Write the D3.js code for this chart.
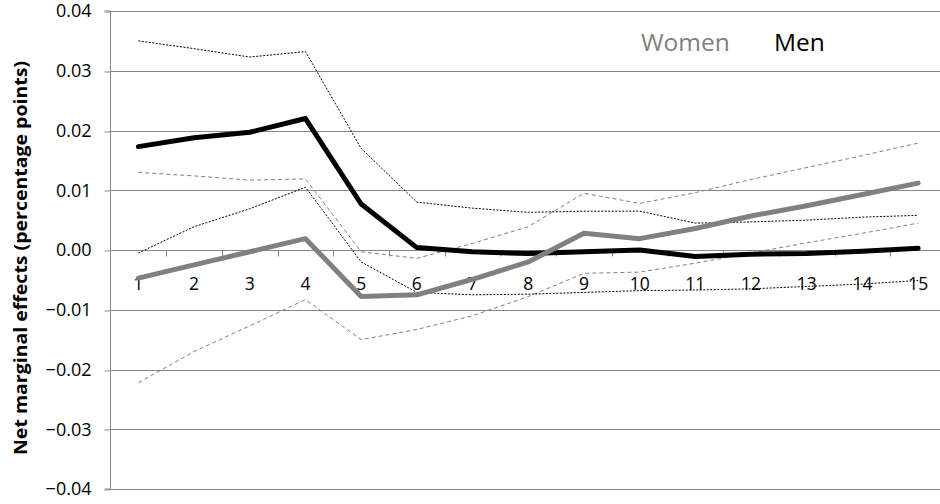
<!DOCTYPE html>
<html>
<head>
<meta charset="utf-8">
<script src="https://cdn.jsdelivr.net/npm/d3@7"></script>
<style>
  html, body { margin: 0; padding: 0; background: #fff; overflow: hidden; }
  svg { display: block; }
  text { font-family: "Open Sans", "Noto Sans", sans-serif; }
</style>
</head>
<body>
<svg id="chart" width="940" height="504"></svg>
<script>
// Categories along the horizontal axis
const categories = [1, 2, 3, 4, 5, 6, 7, 8, 9, 10, 11, 12, 13, 14, 15];

// Men: point estimates and confidence bounds
const menEffect = [0.0173, 0.0188, 0.0197, 0.0220, 0.0077, 0.0004, -0.0003, -0.0006, -0.0003, 0.0000, -0.0011, -0.0007, -0.0006, -0.0002, 0.0003];
const menUpper  = [0.0350, 0.0337, 0.0323, 0.0332, 0.0170, 0.0080, 0.0070, 0.0063, 0.0065, 0.0065, 0.0045, 0.0047, 0.0050, 0.0055, 0.0058];
const menLower  = [-0.0005, 0.0039, 0.0069, 0.0105, -0.0020, -0.0071, -0.0075, -0.0074, -0.0071, -0.0068, -0.0067, -0.0065, -0.0061, -0.0057, -0.0051];

// Women: point estimates and confidence bounds
const womenEffect = [-0.0047, -0.0025, -0.0003, 0.0019, -0.0078, -0.0075, -0.0049, -0.0020, 0.0028, 0.0019, 0.0036, 0.0057, 0.0074, 0.0093, 0.0112];
const womenUpper  = [0.0130, 0.0124, 0.0117, 0.0119, -0.0003, -0.0014, 0.0011, 0.0039, 0.0095, 0.0078, 0.0096, 0.0118, 0.0138, 0.0158, 0.0179];
const womenLower  = [-0.0222, -0.0170, -0.0127, -0.0083, -0.0150, -0.0133, -0.0110, -0.0078, -0.0039, -0.0037, -0.0022, -0.0005, 0.0012, 0.0028, 0.0045];

// Axis ticks
const yTicks = [-0.04, -0.03, -0.02, -0.01, 0.00, 0.01, 0.02, 0.03, 0.04];
const yDomain = [-0.04, 0.04];

const legendLabels = ["Women", "Men"];

const svg = d3.select("#chart");
const plot = { left: 110.5, right: 946, top: 11, bottom: 489 };

const x = d3.scaleBand().domain(categories).range([plot.left, plot.right]).paddingInner(0).paddingOuter(0);
const xc = d => x(d) + x.bandwidth() / 2;
const y = d3.scaleLinear().domain(yDomain).range([plot.bottom, plot.top]);

const gridColor = "#878787";
const grayColor = "#808080";

// Horizontal gridlines
svg.append("g")
  .selectAll("line")
  .data(yTicks)
  .join("line")
  .attr("x1", plot.left)
  .attr("x2", plot.right)
  .attr("y1", d => Math.round(y(d)) + 0.5)
  .attr("y2", d => Math.round(y(d)) + 0.5)
  .attr("stroke", gridColor)
  .attr("stroke-width", 1);

// Vertical axis with outward tick marks
const yAxis = d3.axisLeft(y)
  .tickValues(yTicks)
  .tickSize(6)
  .tickPadding(13)
  .tickFormat(d3.format(".2f"));
const yg = svg.append("g")
  .attr("transform", `translate(${plot.left},0)`)
  .call(yAxis);
yg.select(".domain").attr("stroke", gridColor).attr("d", `M-6,${y(0.04)}H0V${y(-0.04)}H-6`);
yg.selectAll(".tick line").attr("stroke", gridColor)
  .attr("transform", d => `translate(0,${Math.round(y(d)) + 0.5 - y(d)})`);
yg.selectAll(".tick text")
  .attr("font-size", 18)
  .attr("fill", "#000")
  .style("font-family", "'Open Sans', sans-serif");

// Horizontal category axis sitting at zero, ticks between categories
const zeroY = Math.round(y(0)) + 0.5;
const xg = svg.append("g").attr("transform", `translate(0,${zeroY})`);
xg.append("g")
  .selectAll("line")
  .data(categories.slice(1))
  .join("line")
  .attr("x1", d => Math.round(x(d)) + 0.5)
  .attr("x2", d => Math.round(x(d)) + 0.5)
  .attr("y1", 0)
  .attr("y2", 6)
  .attr("stroke", gridColor);
xg.append("g")
  .selectAll("text")
  .data(categories)
  .join("text")
  .attr("x", d => xc(d))
  .attr("y", 39.5)
  .attr("text-anchor", "middle")
  .attr("font-size", 17.5)
  .attr("fill", "#000")
  .text(d => d);

// Vertical axis title
svg.append("text")
  .attr("transform", `translate(27,258) rotate(-90)`)
  .attr("text-anchor", "middle")
  .attr("font-size", 18)
  .attr("font-weight", "bold")
  .attr("fill", "#000")
  .attr("textLength", 394)
  .attr("lengthAdjust", "spacingAndGlyphs")
  .text("Net marginal effects (percentage points)");

const line = d3.line()
  .x((d, i) => xc(categories[i]))
  .y(d => y(d));

// Confidence bounds
const bounds = [
  { values: womenUpper, color: grayColor, dash: "4,3" },
  { values: womenLower, color: grayColor, dash: "4,3" },
  { values: menUpper, color: "#000", dash: "2,1.5" },
  { values: menLower, color: "#000", dash: "2,1.5" }
];
svg.append("g")
  .selectAll("path")
  .data(bounds)
  .join("path")
  .attr("d", d => line(d.values))
  .attr("fill", "none")
  .attr("stroke", d => d.color)
  .attr("stroke-width", 1)
  .attr("stroke-dasharray", d => d.dash);

// Point estimates
const mains = [
  { values: menEffect, color: "#000" },
  { values: womenEffect, color: grayColor }
];
svg.append("g")
  .selectAll("path")
  .data(mains)
  .join("path")
  .attr("d", d => line(d.values))
  .attr("fill", "none")
  .attr("stroke", d => d.color)
  .attr("stroke-width", 5)
  .attr("stroke-linejoin", "round")
  .attr("stroke-linecap", "round");

// Legend
const legend = svg.append("g").attr("font-size", 24.5);
legend.append("text").attr("x", 641).attr("y", 51).attr("fill", grayColor).text(legendLabels[0]);
legend.append("text").attr("x", 774).attr("y", 51).attr("fill", "#000").text(legendLabels[1]);
</script>
</body>
</html>
